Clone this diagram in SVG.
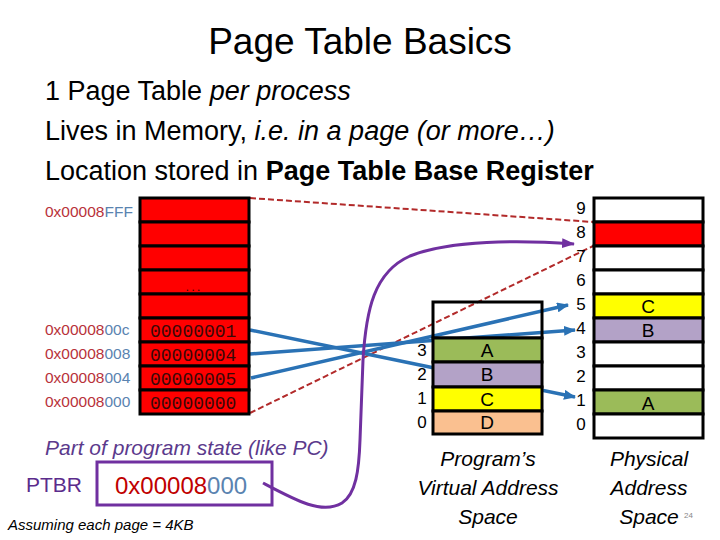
<svg xmlns="http://www.w3.org/2000/svg" width="720" height="540" viewBox="0 0 720 540">
<defs>
<marker id="ab" markerUnits="userSpaceOnUse" markerWidth="12" markerHeight="10" refX="11" refY="5" orient="auto"><path d="M0,0 L12,5 L0,10 z" fill="#2A72B5"/></marker>
<marker id="ap" markerUnits="userSpaceOnUse" markerWidth="13" markerHeight="10" refX="12" refY="5" orient="auto"><path d="M0,0 L13,5 L0,10 z" fill="#7030A0"/></marker>
<style>
text{font-family:"Liberation Sans",Arial,sans-serif}
.t{font-size:37px;fill:#000}
.b{font-size:27px;fill:#000}
.ad{font-size:15.5px}
.r{fill:#B8323A}
.bl{fill:#5A83B0}
.cell{stroke:#000;stroke-width:3}
.val{font-family:"Liberation Mono","Courier New",monospace;font-size:18px;fill:#3a0808}
.num{font-size:17px;fill:#000;text-anchor:middle}
.let{font-size:19px;fill:#000;text-anchor:middle}
.cap{font-size:21px;font-style:italic;fill:#000;text-anchor:middle}
.blue{stroke:#2A72B5;stroke-width:3.5;fill:none;marker-end:url(#ab)}
.dash{stroke:#B22A2A;stroke-width:2;stroke-dasharray:6 3;fill:none}
</style>
</defs>
<rect width="720" height="540" fill="#fff"/>

<g id="title">
<text class="t" x="360" y="54" text-anchor="middle">Page Table Basics</text>
</g>
<g id="bullets">
<text class="b" x="45" y="100">1 Page Table <tspan font-style="italic">per process</tspan></text>
<text class="b" x="45" y="140">Lives in Memory, <tspan font-style="italic">i.e. in a page (or more…)</tspan></text>
<text class="b" x="45" y="180">Location stored in <tspan font-weight="bold">Page Table Base Register</tspan></text>
</g>

<g id="connectors">
<line class="dash" x1="250" y1="198" x2="593" y2="222"/>
<line class="dash" x1="250" y1="413" x2="593" y2="246"/>
<line class="blue" x1="250" y1="330" x2="575" y2="397"/>
<line class="blue" x1="250" y1="354" x2="575" y2="330"/>
<line class="blue" x1="251" y1="378" x2="568" y2="305"/>
<path d="M263,483 C295,500 322,515 342,503 C356,494 359,470 360,440 L363,360 C366,310 374,272 410,256 C450,240 520,240 574,244" stroke="#7030A0" stroke-width="3" fill="none" marker-end="url(#ap)"/>
</g>

<g id="page-table">
<rect class="cell" x="140" y="198" width="109" height="24" fill="#FF0000"/>
<rect class="cell" x="140" y="222" width="109" height="24" fill="#FF0000"/>
<rect class="cell" x="140" y="246" width="109" height="24" fill="#FF0000"/>
<rect class="cell" x="140" y="270" width="109" height="24" fill="#FF0000"/>
<rect class="cell" x="140" y="294" width="109" height="24" fill="#FF0000"/>
<rect class="cell" x="140" y="318" width="109" height="24" fill="#FF0000"/>
<rect class="cell" x="140" y="342" width="109" height="24" fill="#FF0000"/>
<rect class="cell" x="140" y="366" width="109" height="24" fill="#FF0000"/>
<rect class="cell" x="140" y="390" width="109" height="24" fill="#FF0000"/>
<text x="194" y="291" font-size="13" fill="#3a0808" text-anchor="middle" letter-spacing="2">...</text>
<text class="val" x="150" y="337">00000001</text>
<text class="val" x="150" y="361">00000004</text>
<text class="val" x="150" y="385">00000005</text>
<text class="val" x="150" y="409">00000000</text>
</g>

<g id="addresses">
<text class="ad" x="45" y="217"><tspan class="r">0x00008</tspan><tspan class="bl">FFF</tspan></text>
<text class="ad" x="45" y="335"><tspan class="r">0x00008</tspan><tspan class="bl">00c</tspan></text>
<text class="ad" x="45" y="359"><tspan class="r">0x00008</tspan><tspan class="bl">008</tspan></text>
<text class="ad" x="45" y="383"><tspan class="r">0x00008</tspan><tspan class="bl">004</tspan></text>
<text class="ad" x="45" y="407"><tspan class="r">0x00008</tspan><tspan class="bl">000</tspan></text>
</g>

<g id="ptbr">
<text x="45" y="455" font-size="21" font-style="italic" fill="#5B3A8C">Part of program state (like PC)</text>
<text x="26" y="492" font-size="21" fill="#5B2C8C">PTBR</text>
<rect x="97" y="462" width="175" height="43" fill="none" stroke="#7030A0" stroke-width="3"/>
<text x="115" y="494" font-size="24"><tspan fill="#C00000">0x00008</tspan><tspan fill="#5A83B0">000</tspan></text>
<text x="8" y="530" font-size="15" font-style="italic" fill="#000">Assuming each page = 4KB</text>
</g>

<g id="virtual-space">
<rect x="433" y="302" width="109" height="36" fill="none" stroke="#000" stroke-width="3"/>
<rect class="cell" x="433" y="338" width="109" height="24" fill="#9BBB59"/>
<rect class="cell" x="433" y="362" width="109" height="25" fill="#B3A2C7"/>
<rect class="cell" x="433" y="387" width="109" height="24" fill="#FFFF00"/>
<rect class="cell" x="433" y="411" width="109" height="23" fill="#FAC090"/>
<text class="let" x="487" y="357">A</text>
<text class="let" x="487" y="381">B</text>
<text class="let" x="487" y="406">C</text>
<text class="let" x="487" y="429">D</text>
<text class="num" x="422" y="356">3</text>
<text class="num" x="422" y="380">2</text>
<text class="num" x="422" y="404">1</text>
<text class="num" x="422" y="428">0</text>
<text class="cap" x="488" y="466">Program’s</text>
<text class="cap" x="488" y="495">Virtual Address</text>
<text class="cap" x="488" y="524">Space</text>
</g>

<g id="physical-space">
<rect class="cell" x="594" y="198" width="109" height="24" fill="#fff"/>
<rect class="cell" x="594" y="222" width="109" height="24" fill="#FF0000"/>
<rect class="cell" x="594" y="246" width="109" height="24" fill="#fff"/>
<rect class="cell" x="594" y="270" width="109" height="24" fill="#fff"/>
<rect class="cell" x="594" y="294" width="109" height="24" fill="#FFFF00"/>
<rect class="cell" x="594" y="318" width="109" height="24" fill="#B3A2C7"/>
<rect class="cell" x="594" y="342" width="109" height="24" fill="#fff"/>
<rect class="cell" x="594" y="366" width="109" height="24" fill="#fff"/>
<rect class="cell" x="594" y="390" width="109" height="24" fill="#9BBB59"/>
<rect class="cell" x="594" y="414" width="109" height="24" fill="#fff"/>
<text class="let" x="648" y="313">C</text>
<text class="let" x="648" y="337">B</text>
<text class="let" x="648" y="410">A</text>
<text class="num" x="581" y="214">9</text>
<text class="num" x="581" y="238">8</text>
<text class="num" x="581" y="262">7</text>
<text class="num" x="581" y="286">6</text>
<text class="num" x="581" y="310">5</text>
<text class="num" x="581" y="334">4</text>
<text class="num" x="581" y="358">3</text>
<text class="num" x="581" y="382">2</text>
<text class="num" x="581" y="406">1</text>
<text class="num" x="581" y="430">0</text>
<text class="cap" x="649" y="466">Physical</text>
<text class="cap" x="649" y="495">Address</text>
<text class="cap" x="649" y="524">Space</text>
<text x="684" y="518" font-size="8" fill="#888">24</text>
</g>
</svg>
